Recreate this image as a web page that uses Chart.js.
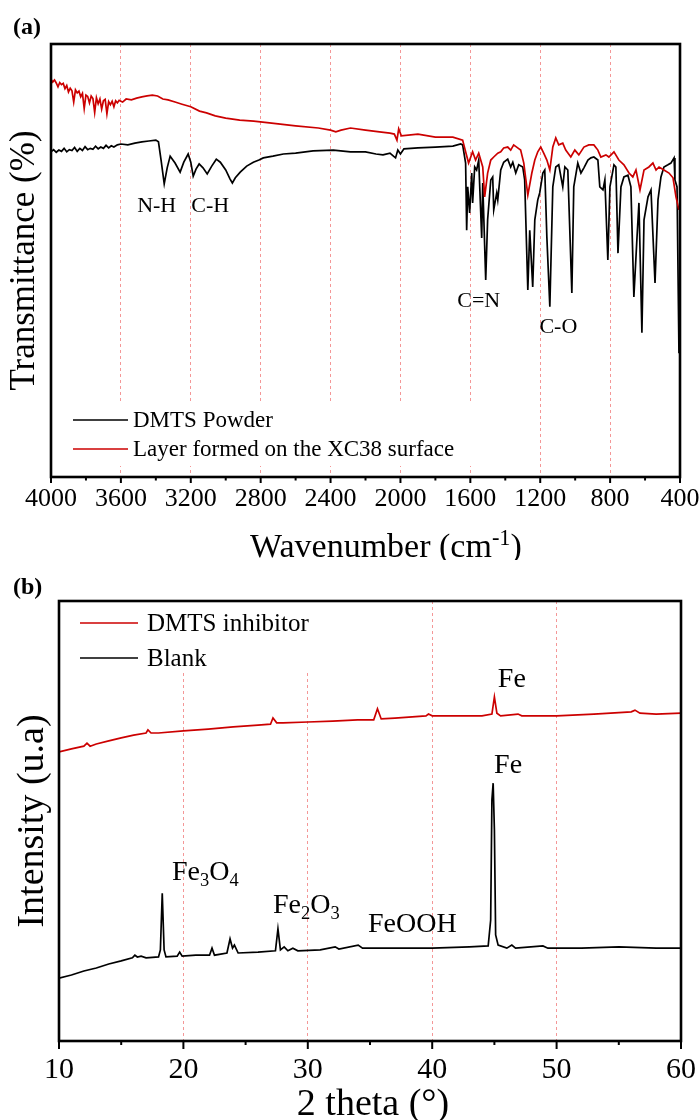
<!DOCTYPE html>
<html><head><meta charset="utf-8">
<script src="https://cdn.jsdelivr.net/npm/chart.js@4.4.1/dist/chart.umd.min.js"></script>
<style>
html,body{margin:0;padding:0;background:#fff;width:700px;height:1120px;overflow:hidden;}
.wrap{position:absolute;left:0;width:700px;height:560px;}
canvas{display:block;}
</style></head><body>
<div class="wrap" style="top:0"><canvas id="cA" width="700" height="560"></canvas></div>
<div class="wrap" style="top:560px"><canvas id="cB" width="700" height="560"></canvas></div>
<script>
// ---------------- Panel (a): FTIR ----------------
const ftirTicks = [4000, 3600, 3200, 2800, 2400, 2000, 1600, 1200, 800, 400];
const ftirPowderWn = [4000,3985,3970,3955,3940,3925,3910,3895,3880,3865,3850,3835,3820,3805,3790,3775,3760,3745,3730,3715,3700,3685,3670,3655,3640,3620,3600,3560,3520,3480,3440,3400,3385,3370,3352,3335,3318,3290,3261,3240,3215,3200,3186,3170,3152,3130,3106,3080,3054,3031,3000,2975,2962,2945,2917,2880,2842,2810,2785,2730,2670,2600,2500,2384,2286,2200,2140,2100,2060,2040,2028,2015,2000,1980,1900,1800,1700,1655,1644,
 1627,1621,1615,1604,1592,1587,1575,1564,1552,1535,1529,1512,1501,1483,1472,1466,1449,1443,1426,1409,1386,1369,1357,1340,1323,1300,1289,1271,1260,1243,1231,1214,1203,1185,1174,1162,1145,1128,1111,1094,1071,1059,1042,1019,1008,985,967,950,927,910,893,870,859,841,830,813,801,778,767,755,738,721,698,681,664,646,635,618,606,583,566,543,526,509,492,469,452,434,429,417,406,400];
const ftirPowderT = [75.1,75.6,75.0,75.5,75.2,75.9,75.1,75.6,75.4,76.1,75.2,75.9,75.4,76.3,75.6,75.9,75.7,76.4,75.8,76.2,75.9,76.6,76.0,76.5,76.2,76.7,76.9,76.7,77.1,77.4,77.6,77.8,77.4,73.2,67.7,71.4,74.1,72.5,70.4,72.7,74.6,72.7,69.5,71.1,72.3,71.4,70.0,71.8,73.4,72.7,70.9,68.8,67.9,69.1,70.4,71.8,72.7,73.2,73.7,74.1,74.6,74.8,75.3,75.5,75.1,75.1,74.6,74.4,74.8,74.1,73.7,75.5,74.6,75.8,76.0,76.2,76.4,76.9,76.7,
 72.5,57.0,67.0,61.0,70.2,63.3,71.6,70.9,73.2,55.2,67.9,45.5,59.4,68.6,69.3,61.7,65.6,64.0,70.9,72.7,73.4,71.6,72.7,70.2,72.1,71.6,68.6,43.2,57.0,43.9,59.4,64.0,65.6,70.2,70.9,55.4,39.3,67.0,71.6,72.1,67.0,71.6,70.9,42.5,67.0,72.5,70.2,71.4,73.2,73.7,73.9,73.2,67.0,66.3,68.6,50.1,67.0,72.1,71.6,51.7,67.0,69.3,69.7,67.0,41.6,55.4,63.3,33.3,59.4,64.7,66.3,44.8,64.0,69.3,71.6,72.1,72.5,73.7,68.6,67.0,28.6,31.6];
const ftirLayerWn = [4000,3990,3980,3970,3960,3950,3940,3930,3920,3910,3900,3890,3880,3870,3860,3850,3840,3830,3820,3810,3800,3790,3780,3770,3760,3750,3740,3730,3720,3710,3700,3690,3680,3670,3660,3650,3640,3630,3620,3610,3600,3590,3570,3540,3510,3480,3450,3420,3390,3360,3330,3290,3250,3200,3150,3110,3060,3000,2920,2840,2750,2600,2470,2400,2370,2340,2286,2200,2120,2060,2035,2020,2010,1995,1900,1800,1700,1644,
 1627,1610,1587,1570,1552,1529,1518,1501,1483,1466,1443,1426,1409,1386,1369,1352,1329,1312,1294,1271,1248,1231,1214,1197,1180,1162,1145,1128,1111,1094,1071,1054,1025,1002,979,950,922,893,870,853,824,807,778,750,721,692,670,652,629,606,578,555,537,520,492,463,440,423,406];
const ftirLayerT = [91.9,91.2,91.7,91.0,90.1,91.1,90.6,90.9,89.7,90.4,88.9,89.8,89.2,86.6,89.4,88.7,89.1,87.8,88.6,85.1,88.2,87.9,86.4,88.0,87.4,84.2,87.6,86.2,87.3,85.0,86.9,87.2,83.9,86.7,86.0,86.8,85.5,86.9,86.4,87.0,86.8,86.6,87.3,87.1,87.5,87.8,88.0,88.2,88.0,87.3,87.1,86.6,86.1,85.5,84.5,84.1,83.4,82.9,82.4,82.2,81.8,81.1,80.6,80.1,79.7,80.1,80.6,80.1,79.7,79.4,79.2,77.8,80.4,78.8,79.2,78.5,78.5,77.8,
 75.1,72.5,75.1,73.2,74.8,71.6,64.7,70.2,73.2,73.9,74.8,75.1,76.0,76.2,75.5,76.7,76.0,75.5,72.5,65.1,70.2,73.2,75.1,76.2,74.8,73.2,70.9,76.2,78.3,76.7,77.1,75.5,73.9,75.5,74.4,76.2,76.7,76.7,75.5,73.9,74.4,73.9,75.1,73.2,72.1,70.2,69.3,70.9,66.3,70.9,71.6,72.5,70.9,71.6,70.9,70.2,69.1,64.7,61.7];
const ftirLegend = ['DMTS Powder', 'Layer formed on the XC38 surface'];
const ftirNotes = [
  {parts:[['N-H']], x:3395, y:61.2},
  {parts:[['C-H']], x:3089, y:61.2},
  {parts:[['C=N']], x:1552, y:39.3},
  {parts:[['C-O']], x:1096, y:33.3}
];

// ---------------- Panel (b): XRD ----------------
const xrdTicks = [10, 20, 30, 40, 50, 60];
const xrdInhib2t = [10,11,12,12.25,12.5,13,14,15,16,17,17.15,17.4,18,20,22,24,26,27,27.2,27.5,28,30,32,34,35.3,35.6,35.9,37,39.5,39.7,40,42,44,44.8,45.0,45.2,45.5,46.9,47.2,50,53,56,56.3,56.7,58,60];
const xrdInhibI = [65.7,66.4,67.0,67.7,67.0,67.5,68.2,68.9,69.5,70.0,70.7,70.0,70.0,70.5,70.9,71.4,71.8,72.0,73.4,72.3,72.3,72.5,72.7,73.0,73.0,75.5,73.2,73.4,73.9,74.3,73.9,73.9,73.9,74.3,78.2,74.5,73.9,74.3,73.9,73.9,74.3,74.8,75.2,74.5,74.3,74.5];
const xrdBlank2t = [10,11,12,13,14,15,15.9,16.1,16.3,16.6,17,18,18.15,18.3,18.45,18.6,19.5,19.7,19.9,21,22.1,22.3,22.5,23.5,23.75,23.95,24.1,24.4,26,27.4,27.6,27.8,28.1,28.4,28.8,29.2,31,32.2,32.5,34.05,34.4,37,40,43,44.5,44.7,44.8,44.9,45.0,45.1,45.3,46,46.4,46.7,48.9,49.3,52,55,58,60];
const xrdBlankI = [14.3,15.0,15.9,16.6,17.5,18.2,18.9,19.5,19.1,19.3,18.9,19.1,20.7,33.6,20.7,19.1,19.3,20.2,19.3,19.5,19.5,21.1,19.5,20.0,23.2,21.1,21.8,20.0,20.2,20.5,25.5,20.7,21.4,20.5,21.1,20.5,20.7,21.4,20.9,21.8,21.1,21.1,21.1,21.4,21.6,27.5,54.8,58.6,48.0,24.1,21.8,21.1,21.8,21.1,21.6,21.1,21.1,21.4,21.1,21.1];
const xrdLegend = ['DMTS inhibitor', 'Blank'];
const xrdNotes = [
  {parts:[['Fe']], x:46.4, y:80.5},
  {parts:[['Fe']], x:46.1, y:60.9},
  {parts:[['Fe'],['3','sub'],['O'],['4','sub']], x:19.08, y:36.6, align:'left'},
  {parts:[['Fe'],['2','sub'],['O'],['3','sub']], x:27.2, y:29.1, align:'left'},
  {parts:[['FeOOH']], x:34.84, y:24.8, align:'left'}
];

// ---------------- helpers ----------------
const FAM = '"Liberation Serif", "Times New Roman", serif';
const RED = '#cc0000';
const GRID = 'rgba(238,95,95,0.65)';
Chart.defaults.font.family = FAM;
Chart.defaults.color = '#000';

function pts(xs, ys){ return xs.map((x,i)=>({x:x, y:ys[i]})); }

function drawRich(ctx, parts, x, y, size, align){
  const ws = parts.map(p => { ctx.font = (p[1] ? size*0.66 : size) + 'px ' + FAM; return ctx.measureText(p[0]).width; });
  const total = ws.reduce((a,b)=>a+b,0);
  let cx = align === 'left' ? x : x - total/2;
  ctx.textAlign = 'left'; ctx.textBaseline = 'alphabetic'; ctx.fillStyle = '#000';
  parts.forEach((p,i)=>{
    ctx.font = (p[1] ? size*0.66 : size) + 'px ' + FAM;
    const dy = p[1] === 'sub' ? size*0.22 : (p[1] === 'sup' ? -size*0.36 : 0);
    ctx.fillText(p[0], cx, y + dy);
    cx += ws[i];
  });
}

function makePlugin(cfg){
  return {
    id: 'deco' + cfg.name,
    beforeDatasetsDraw(chart){
      const ctx = chart.ctx, ca = chart.chartArea;
      ctx.save();
      ctx.fillStyle = '#fff';
      ctx.fillRect(ca.left, cfg.legBox[0], cfg.legBox[2] - ca.left, cfg.legBox[1] - cfg.legBox[0]);
      cfg.legOrder.forEach((di, k) => {
        const ds = chart.data.datasets[di];
        const y = cfg.legY[k];
        ctx.strokeStyle = ds.borderColor; ctx.lineWidth = 1.6;
        ctx.beginPath(); ctx.moveTo(cfg.legX[0], y); ctx.lineTo(cfg.legX[1], y); ctx.stroke();
        ctx.fillStyle = '#000'; ctx.font = cfg.legFont + 'px ' + FAM;
        ctx.textAlign = 'left'; ctx.textBaseline = 'middle';
        ctx.fillText(ds.label, cfg.legX[2], y + 1);
      });
      ctx.restore();
    },
    afterDatasetsDraw(chart){
      const ctx = chart.ctx, ca = chart.chartArea, xs = chart.scales.x, ys = chart.scales.y;
      ctx.save();
      ctx.strokeStyle = '#000'; ctx.lineWidth = 2.6;
      ctx.strokeRect(ca.left, ca.top, ca.right - ca.left, ca.bottom - ca.top);
      ctx.lineWidth = 2;
      const lo = Math.min(xs.min, xs.max), hi = Math.max(xs.min, xs.max);
      for (let v = lo; v <= hi + 1e-9; v += cfg.step/2){
        const major = Math.abs(v/cfg.step - Math.round(v/cfg.step)) < 1e-6;
        const px = xs.getPixelForValue(v);
        ctx.beginPath(); ctx.moveTo(px, ca.bottom); ctx.lineTo(px, ca.bottom + (major ? cfg.tickLen[0] : cfg.tickLen[1])); ctx.stroke();
      }
      cfg.notes.forEach(n => {
        drawRich(ctx, n.parts, xs.getPixelForValue(n.x), ys.getPixelForValue(n.y), cfg.noteFont, n.align || 'center');
      });
      drawRich(ctx, cfg.xTitle, cfg.xTitlePos[0], cfg.xTitlePos[1], cfg.xTitleFont, 'center');
      ctx.fillStyle = '#000'; ctx.font = 'bold 24px ' + FAM; ctx.textAlign = 'left'; ctx.textBaseline = 'alphabetic';
      ctx.fillText(cfg.panel, 13, 34);
      ctx.restore();
    }
  };
}

function gridColor(lo, hi){
  return ctx => (ctx.tick && (ctx.tick.value === lo || ctx.tick.value === hi)) ? 'rgba(0,0,0,0)' : GRID;
}
function fitX(h){ return s => { s.height = h; s.paddingLeft = 0; s.paddingRight = 0; }; }

// ---------------- Chart (a) ----------------
new Chart(document.getElementById('cA'), {
  type: 'line',
  data: { datasets: [
    { label: ftirLegend[1], data: pts(ftirLayerWn, ftirLayerT), borderColor: RED, borderWidth: 1.7, pointRadius: 0, tension: 0, order: 0 },
    { label: ftirLegend[0], data: pts(ftirPowderWn, ftirPowderT), borderColor: '#000', borderWidth: 1.7, pointRadius: 0, tension: 0, order: 1 }
  ]},
  options: {
    responsive: false, animation: false, events: [],
    layout: { padding: { left: 0, right: 20, top: 44, bottom: 0 } },
    plugins: { legend: { display: false }, tooltip: { enabled: false } },
    scales: {
      x: {
        type: 'linear', reverse: true, min: ftirTicks[ftirTicks.length-1], max: ftirTicks[0],
        afterBuildTicks: s => { s.ticks = ftirTicks.slice().reverse().map(v => ({value: v})); },
        afterFit: fitX(83),
        ticks: { autoSkip: false, maxRotation: 0, padding: 7, font: { size: 26, family: FAM }, color: '#000', callback: v => String(v) },
        grid: { color: gridColor(400, 4000), lineWidth: 1, drawTicks: false },
        border: { display: false, dash: [3, 3] }
      },
      y: {
        min: 0, max: 100,
        afterFit: s => { s.width = 51; },
        ticks: { display: false },
        grid: { display: false, drawTicks: false },
        border: { display: false },
        title: { display: true, text: 'Transmittance (%)', font: { size: 35, family: FAM }, color: '#000', padding: { top: 4, bottom: 0 } }
      }
    }
  },
  plugins: [makePlugin({
    name: 'A', step: 400, tickLen: [6, 3.5], notes: ftirNotes, noteFont: 22,
    xTitle: [['Wavenumber (cm'], ['-1', 'sup'], [')']], xTitlePos: [386, 557], xTitleFont: 34,
    panel: '(a)', legBox: [402, 466, 478], legX: [73, 128, 133], legY: [420, 449], legFont: 23, legOrder: [1, 0]
  })]
});

// ---------------- Chart (b) ----------------
new Chart(document.getElementById('cB'), {
  type: 'line',
  data: { datasets: [
    { label: xrdLegend[0], data: pts(xrdInhib2t, xrdInhibI), borderColor: RED, borderWidth: 1.7, pointRadius: 0, tension: 0 },
    { label: xrdLegend[1], data: pts(xrdBlank2t, xrdBlankI), borderColor: '#000', borderWidth: 1.7, pointRadius: 0, tension: 0 }
  ]},
  options: {
    responsive: false, animation: false, events: [],
    layout: { padding: { left: 0, right: 19, top: 41, bottom: 0 } },
    plugins: { legend: { display: false }, tooltip: { enabled: false } },
    scales: {
      x: {
        type: 'linear', min: xrdTicks[0], max: xrdTicks[xrdTicks.length-1],
        afterBuildTicks: s => { s.ticks = xrdTicks.map(v => ({value: v})); },
        afterFit: fitX(79),
        ticks: { autoSkip: false, maxRotation: 0, padding: 11, font: { size: 30, family: FAM }, color: '#000', callback: v => String(v) },
        grid: { color: gridColor(10, 60), lineWidth: 1, drawTicks: false },
        border: { display: false, dash: [3, 3] }
      },
      y: {
        min: 0, max: 100,
        afterFit: s => { s.width = 59; },
        ticks: { display: false },
        grid: { display: false, drawTicks: false },
        border: { display: false },
        title: { display: true, text: 'Intensity (u.a)', font: { size: 38, family: FAM }, color: '#000', padding: { top: 10, bottom: 0 } }
      }
    }
  },
  plugins: [makePlugin({
    name: 'B', step: 10, tickLen: [8, 4], notes: xrdNotes, noteFont: 28,
    xTitle: [['2 theta (°)']], xTitlePos: [373, 555], xTitleFont: 38,
    panel: '(b)', legBox: [41, 113, 318], legX: [80, 138, 147], legY: [63, 98], legFont: 25, legOrder: [0, 1]
  })]
});
</script>
</body></html>
